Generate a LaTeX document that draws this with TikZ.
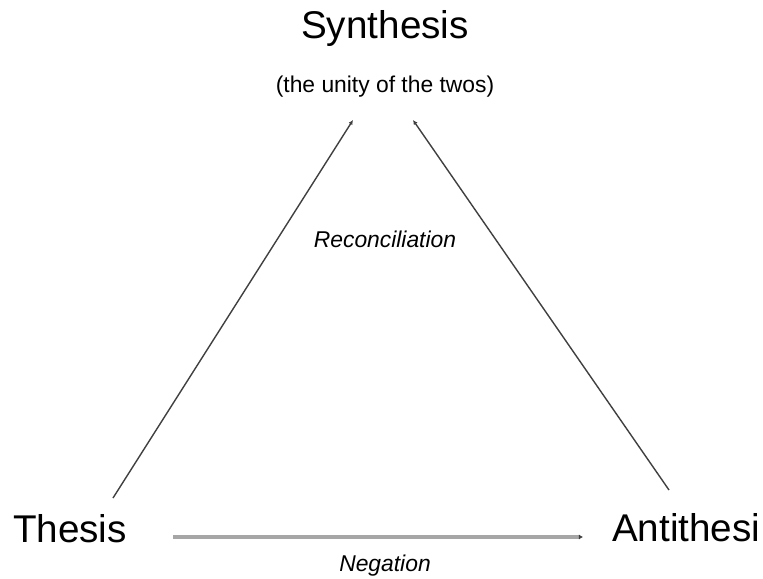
\documentclass[tikz,border=0pt]{standalone}
\usepackage{fontspec}
\setmainfont{Liberation Sans}
\usetikzlibrary{arrows.meta,positioning}

\begin{document}
\begin{tikzpicture}[x=0.02cm, y=-0.02cm,
    every node/.style={inner sep=0pt, outer sep=0pt},
    big/.style={font=\fontsize{22}{26}\selectfont},
    small/.style={font=\fontsize{13}{16}\selectfont},
    link/.style={draw=black!75, line width=0.8pt, -{Latex[length=2.6pt,width=2.6pt]}},
    neg/.style={draw=black!35, line width=2.2pt, -{Latex[length=2.4pt,width=3pt,black!75]}}]
                \useasboundingbox (0,0) rectangle (763,578);
                % Term nodes
                \node[big, anchor=base] (syn) at (385,38) {Synthesis};
                \node[small, anchor=base] (unity) at (385,92) {(the unity of the twos)};
                \node[big, anchor=base west] (the) at (13,542) {Thesis};
                \node[big, anchor=base west] (anti) at (612,541) {Antithesi};

                % Edge labels
                \node[small, anchor=base] (rec) at (385,247) {\itshape Reconciliation};
                \node[small, anchor=base] (negl) at (385,571) {\itshape Negation};

                % Line ends
                \coordinate (t1) at (113,498);
                \coordinate (s1) at (353,120);
                \coordinate (a1) at (669,490);
                \coordinate (s2) at (413,120);
                \coordinate (t2) at (173,537);
                \coordinate (a2) at (583,537);

                % Connectors
                \draw[link] (t1) -- (s1);
                \draw[link] (a1) -- (s2);
                \draw[neg] (t2) -- (a2);
            \end{tikzpicture}
\end{document}
